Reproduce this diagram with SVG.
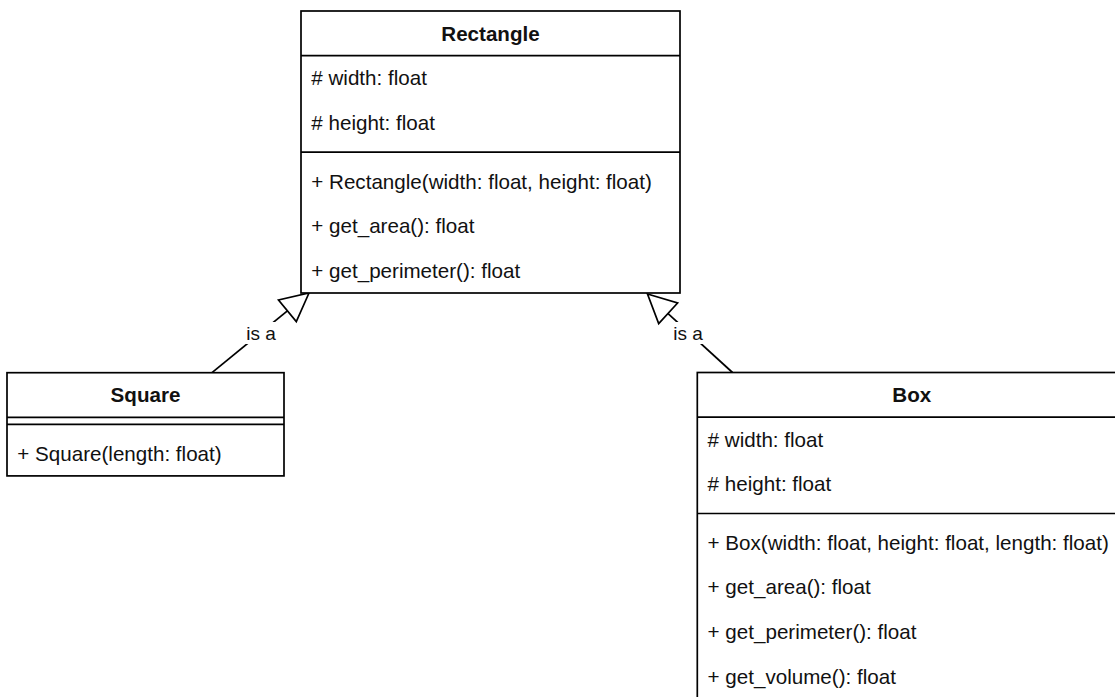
<svg xmlns="http://www.w3.org/2000/svg" width="1115" height="697" viewBox="0 0 1115 697">
  <style>
    .box { fill: #ffffff; stroke: #000000; stroke-width: 1.7; }
    .sep { stroke: #000000; stroke-width: 1.7; fill: none; }
    .title { font-family: "Liberation Sans", Arial, sans-serif; font-size: 20.6px; font-weight: bold; fill: #111111; text-anchor: middle; }
    .row { font-family: "Liberation Sans", Arial, sans-serif; font-size: 20.6px; fill: #111111; }
    .edge { stroke: #000000; stroke-width: 1.7; fill: none; }
    .head { fill: #ffffff; stroke: #000000; stroke-width: 1.7; stroke-linejoin: miter; }
    .lbl { font-family: "Liberation Sans", Arial, sans-serif; font-size: 19px; fill: #111111; text-anchor: middle; }
    .lblbg { fill: #ffffff; stroke: none; }
  </style>
  <rect width="1115" height="697" fill="#ffffff"/>

  <g id="connectors">
    <g id="edge-square-rectangle">
      <line class="edge" x1="212" y1="372.7" x2="287.4" y2="310.8"/>
      <polygon class="head" points="309,293 296.3,321.6 278.5,300"/>
      <rect class="lblbg" x="245" y="322" width="32" height="22"/>
      <text class="lbl" x="261" y="339.5">is a</text>
    </g>
    <g id="edge-box-rectangle">
      <line class="edge" x1="732.5" y1="372.5" x2="667.8" y2="313.4"/>
      <polygon class="head" points="647.5,294 677.6,303 658.7,323.6"/>
      <rect class="lblbg" x="672" y="322" width="32" height="22"/>
      <text class="lbl" x="688" y="339.5">is a</text>
    </g>
  </g>

  <g id="rectangle">
    <rect class="box" x="301" y="11" width="379" height="282"/>
    <line class="sep" x1="301" y1="55.7" x2="680" y2="55.7"/>
    <line class="sep" x1="301" y1="152.1" x2="680" y2="152.1"/>
    <text class="title" x="490.5" y="40.5">Rectangle</text>
    <text class="row" x="311.3" y="85"># width: float</text>
    <text class="row" x="311.3" y="130"># height: float</text>
    <text class="row" x="311.3" y="188.5">+ Rectangle(width: float, height: float)</text>
    <text class="row" x="311.3" y="233">+ get_area(): float</text>
    <text class="row" x="311.3" y="278">+ get_perimeter(): float</text>
  </g>

  <g id="square">
    <rect class="box" x="7" y="372.7" width="277" height="103.2"/>
    <line class="sep" x1="7" y1="417.4" x2="284" y2="417.4"/>
    <line class="sep" x1="7" y1="424.3" x2="284" y2="424.3"/>
    <text class="title" x="145.5" y="402">Square</text>
    <text class="row" x="17.3" y="460.5">+ Square(length: float)</text>
  </g>

  <g id="box">
    <rect class="box" x="697.3" y="372.5" width="429" height="340"/>
    <line class="sep" x1="697.3" y1="417.2" x2="1126.3" y2="417.2"/>
    <line class="sep" x1="697.3" y1="513.5" x2="1126.3" y2="513.5"/>
    <text class="title" x="911.8" y="402">Box</text>
    <text class="row" x="707.6" y="446.5"># width: float</text>
    <text class="row" x="707.6" y="491"># height: float</text>
    <text class="row" x="707.6" y="549.7">+ Box(width: float, height: float, length: float)</text>
    <text class="row" x="707.6" y="594.4">+ get_area(): float</text>
    <text class="row" x="707.6" y="639">+ get_perimeter(): float</text>
    <text class="row" x="707.6" y="683.8">+ get_volume(): float</text>
  </g>
</svg>
